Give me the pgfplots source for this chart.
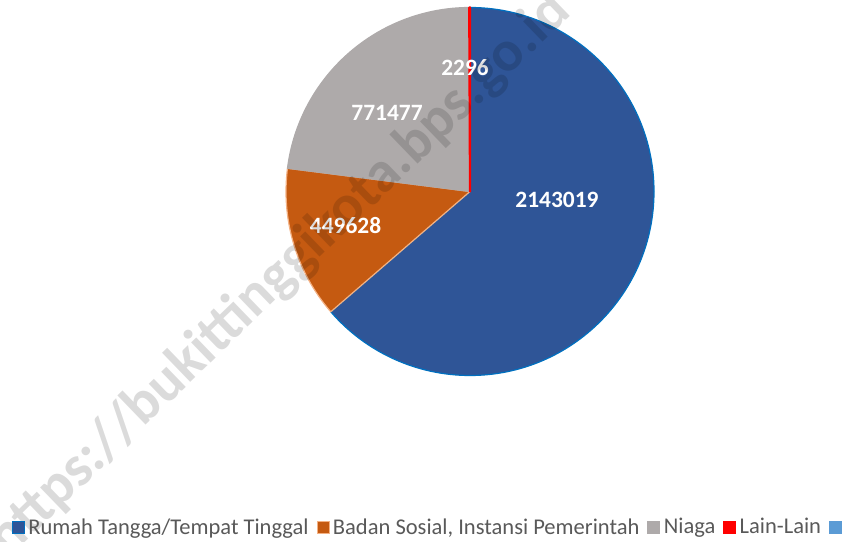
\documentclass[border=0pt]{standalone}
\usepackage{fontspec}
\setmainfont{Carlito}
\usepackage{pgfplots}
\usepackage{pgfplotstable}
\pgfplotsset{compat=1.18}
\definecolor{cblue}{HTML}{2F5597}
\definecolor{cbluee}{HTML}{0070C0}
\definecolor{corange}{HTML}{C55A11}
\definecolor{corangee}{HTML}{F4B183}
\definecolor{cgray}{HTML}{AEAAAA}
\definecolor{cred}{HTML}{FF0000}
\definecolor{clight}{HTML}{5B9BD5}
\definecolor{ctext}{HTML}{595959}

% value, fill colour, edge colour, edge width, label position (px from left, px from top)
\pgfplotstableread{
value   fillc   edgec    lw   lx     ly
2143019 cblue   cbluee   1.2  557    200
449628  corange corangee 1.2  345.5  226
771477  cgray   cgray    1.2  387    112.5
2296    cred    cred     2.2  465    68
}\piedata

\pgfplotsset{sq/.style={legend image code/.code={\filldraw[##1] (0bp,-6bp) rectangle (12bp,6bp);}}}

\begin{document}
\begin{tikzpicture}
\begin{axis}[
  scale only axis, width=852bp, height=542bp,
  xmin=0, xmax=852, ymin=-542, ymax=0,
  hide axis,
  legend columns=-1,
  legend cell align=left,
  legend style={at={(0.0141,0.0277)}, anchor=west, draw=none, fill=none,
    inner sep=0pt, outer sep=0pt,
    font=\fontsize{22.6}{22.6}\selectfont,
    nodes={inner sep=0pt, text=ctext},
    /tikz/every odd column/.append style={column sep=4bp},
    /tikz/every even column/.append style={column sep=8bp}},
]
\pgfplotsextra{
  \gdef\tot{0}
  \foreach \i in {0,...,3}{
    \pgfplotstablegetelem{\i}{value}\of\piedata
    \xdef\tot{\fpeval{\tot+\pgfplotsretval}}
  }
  \gdef\cum{0}
  \foreach \i in {0,...,3}{
    \pgfplotstablegetelem{\i}{value}\of\piedata \let\v\pgfplotsretval
    \pgfplotstablegetelem{\i}{fillc}\of\piedata \let\fc\pgfplotsretval
    \pgfplotstablegetelem{\i}{edgec}\of\piedata \let\ec\pgfplotsretval
    \pgfplotstablegetelem{\i}{lw}\of\piedata \let\lw\pgfplotsretval
    \edef\aS{\fpeval{90-360*\cum/\tot}}
    \xdef\cum{\fpeval{\cum+\v}}
    \edef\aE{\fpeval{90-360*\cum/\tot}}
    \filldraw[fill=\fc, draw=\ec, line width=\lw bp, line join=round]
      (axis cs:470,-191.5) -- ++(\aS:184bp) arc[start angle=\aS, end angle=\aE, radius=184bp] -- cycle;
  }
  \foreach \i in {0,...,3}{
    \pgfplotstablegetelem{\i}{value}\of\piedata \let\v\pgfplotsretval
    \pgfplotstablegetelem{\i}{lx}\of\piedata \let\lx\pgfplotsretval
    \pgfplotstablegetelem{\i}{ly}\of\piedata \let\ly\pgfplotsretval
    \node[font=\bfseries\fontsize{23.5}{23.5}\selectfont, text=white, inner sep=0pt]
      at (axis cs:\lx,-\ly) {\v};
  }
  \node[rotate=44, font=\bfseries\fontsize{58}{58}\selectfont,
        text=black, text opacity=0.14, inner sep=0pt]
    at (axis cs:280,-275) {https://bukittinggikota.bps.go.id};
}
\addlegendimage{sq, fill=cblue, draw=cbluee}
\addlegendentry{Rumah Tangga/Tempat Tinggal}
\addlegendimage{sq, fill=corange, draw=corangee}
\addlegendentry{Badan Sosial, Instansi Pemerintah}
\addlegendimage{sq, fill=cgray, draw=cgray}
\addlegendentry{Niaga}
\addlegendimage{sq, fill=cred, draw=cred}
\addlegendentry{Lain-Lain}
\addlegendimage{sq, fill=clight, draw=clight}
\addlegendentry{}
\end{axis}
\pgfresetboundingbox
\path (0,0) rectangle (852bp,542bp);
\end{tikzpicture}
\end{document}
